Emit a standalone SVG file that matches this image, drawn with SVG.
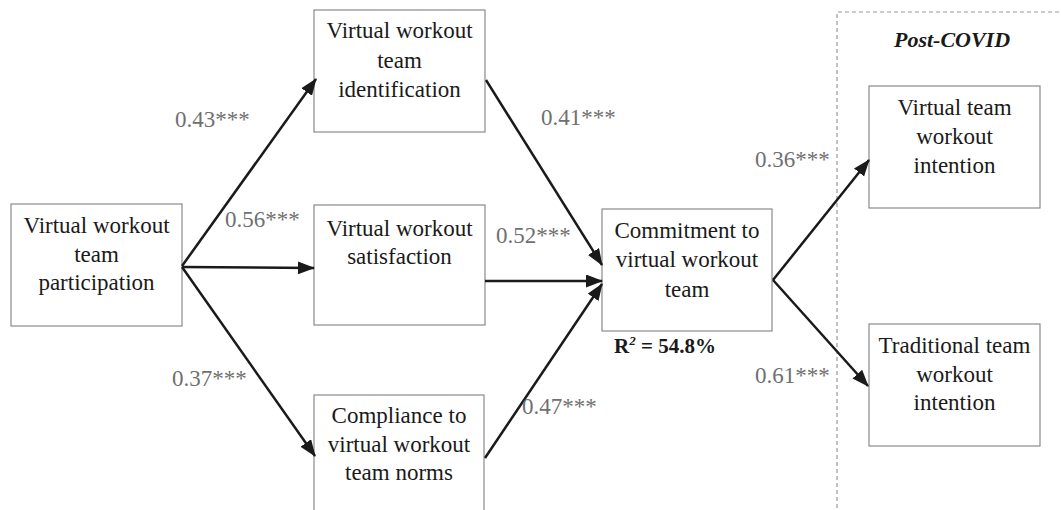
<svg xmlns="http://www.w3.org/2000/svg" width="1061" height="510" viewBox="0 0 1061 510">
<style>
.box{fill:#fff;stroke:#8a8a8a;stroke-width:1.2}
.t{font-family:"Liberation Serif","Times New Roman",serif;font-size:23px;fill:#1a1a1a;text-anchor:middle}
.lbl{font-family:"Liberation Serif","Times New Roman",serif;font-size:23px;fill:#707070}
.c{stroke:#1a1a1a;stroke-width:2.5;fill:none;marker-end:url(#ah)}
</style>
<defs>
<marker id="ah" markerUnits="userSpaceOnUse" markerWidth="18" markerHeight="14" refX="16" refY="6.5" orient="auto">
<path d="M0,0 L17,6.5 L0,13 z" fill="#1a1a1a"/>
</marker>
</defs>
<rect width="1061" height="510" fill="#fff"/>
<g id="postcovid">
<path d="M837,515 L837,12 L1065,12" fill="none" stroke="#999" stroke-width="1.2" stroke-dasharray="4,3"/>
<text x="952" y="47" style="font-family:'Liberation Serif','Times New Roman',serif;font-size:22px;font-weight:bold;font-style:italic;fill:#1a1a1a;text-anchor:middle">Post-COVID</text>
</g>
<g id="participation">
<rect class="box" x="11" y="204" width="171" height="122"/>
<text class="t" x="96.5" y="233">Virtual workout</text>
<text class="t" x="96.5" y="262">team</text>
<text class="t" x="96.5" y="290">participation</text>
</g>
<g id="identification">
<rect class="box" x="314" y="10" width="171" height="122"/>
<text class="t" x="399.5" y="38">Virtual workout</text>
<text class="t" x="399.5" y="68">team</text>
<text class="t" x="399.5" y="97">identification</text>
</g>
<g id="satisfaction">
<rect class="box" x="314" y="205" width="171" height="120"/>
<text class="t" x="399.5" y="236">Virtual workout</text>
<text class="t" x="399.5" y="264">satisfaction</text>
</g>
<g id="compliance">
<rect class="box" x="314" y="395" width="170" height="125"/>
<text class="t" x="399" y="423">Compliance to</text>
<text class="t" x="399" y="452">virtual workout</text>
<text class="t" x="399" y="480">team norms</text>
</g>
<g id="commitment">
<rect class="box" x="602" y="209" width="170" height="122"/>
<text class="t" x="687" y="238">Commitment to</text>
<text class="t" x="687" y="267">virtual workout</text>
<text class="t" x="687" y="297">team</text>
<text x="614" y="353" style="font-family:'Liberation Serif','Times New Roman',serif;font-size:21px;font-weight:bold;fill:#1a1a1a">R<tspan font-size="13" font-style="italic" dy="-8">2</tspan><tspan dy="8"> = 54.8%</tspan></text>
</g>
<g id="virtual-intention">
<rect class="box" x="869" y="86" width="171" height="122"/>
<text class="t" x="954.5" y="115">Virtual team</text>
<text class="t" x="954.5" y="144">workout</text>
<text class="t" x="954.5" y="173">intention</text>
</g>
<g id="traditional-intention">
<rect class="box" x="869" y="324" width="171" height="122"/>
<text class="t" x="954.5" y="353">Traditional team</text>
<text class="t" x="954.5" y="382">workout</text>
<text class="t" x="954.5" y="410">intention</text>
</g>
<g id="connectors">
<line class="c" x1="182" y1="266" x2="316" y2="79"/>
<line class="c" x1="182" y1="267" x2="314" y2="268"/>
<line class="c" x1="182" y1="267" x2="315" y2="456"/>
<line class="c" x1="486" y1="80" x2="602" y2="265"/>
<line class="c" x1="485" y1="281" x2="602" y2="281"/>
<line class="c" x1="485" y1="458" x2="602" y2="284"/>
<line class="c" x1="773" y1="280" x2="869" y2="160"/>
<line class="c" x1="773" y1="280" x2="868" y2="386"/>
</g>
<g id="labels">
<text class="lbl" x="175" y="127">0.43***</text>
<text class="lbl" x="225" y="227">0.56***</text>
<text class="lbl" x="172" y="386">0.37***</text>
<text class="lbl" x="541" y="125">0.41***</text>
<text class="lbl" x="496" y="243">0.52***</text>
<text class="lbl" x="522" y="414">0.47***</text>
<text class="lbl" x="755" y="167">0.36***</text>
<text class="lbl" x="755" y="383">0.61***</text>
</g>
</svg>
